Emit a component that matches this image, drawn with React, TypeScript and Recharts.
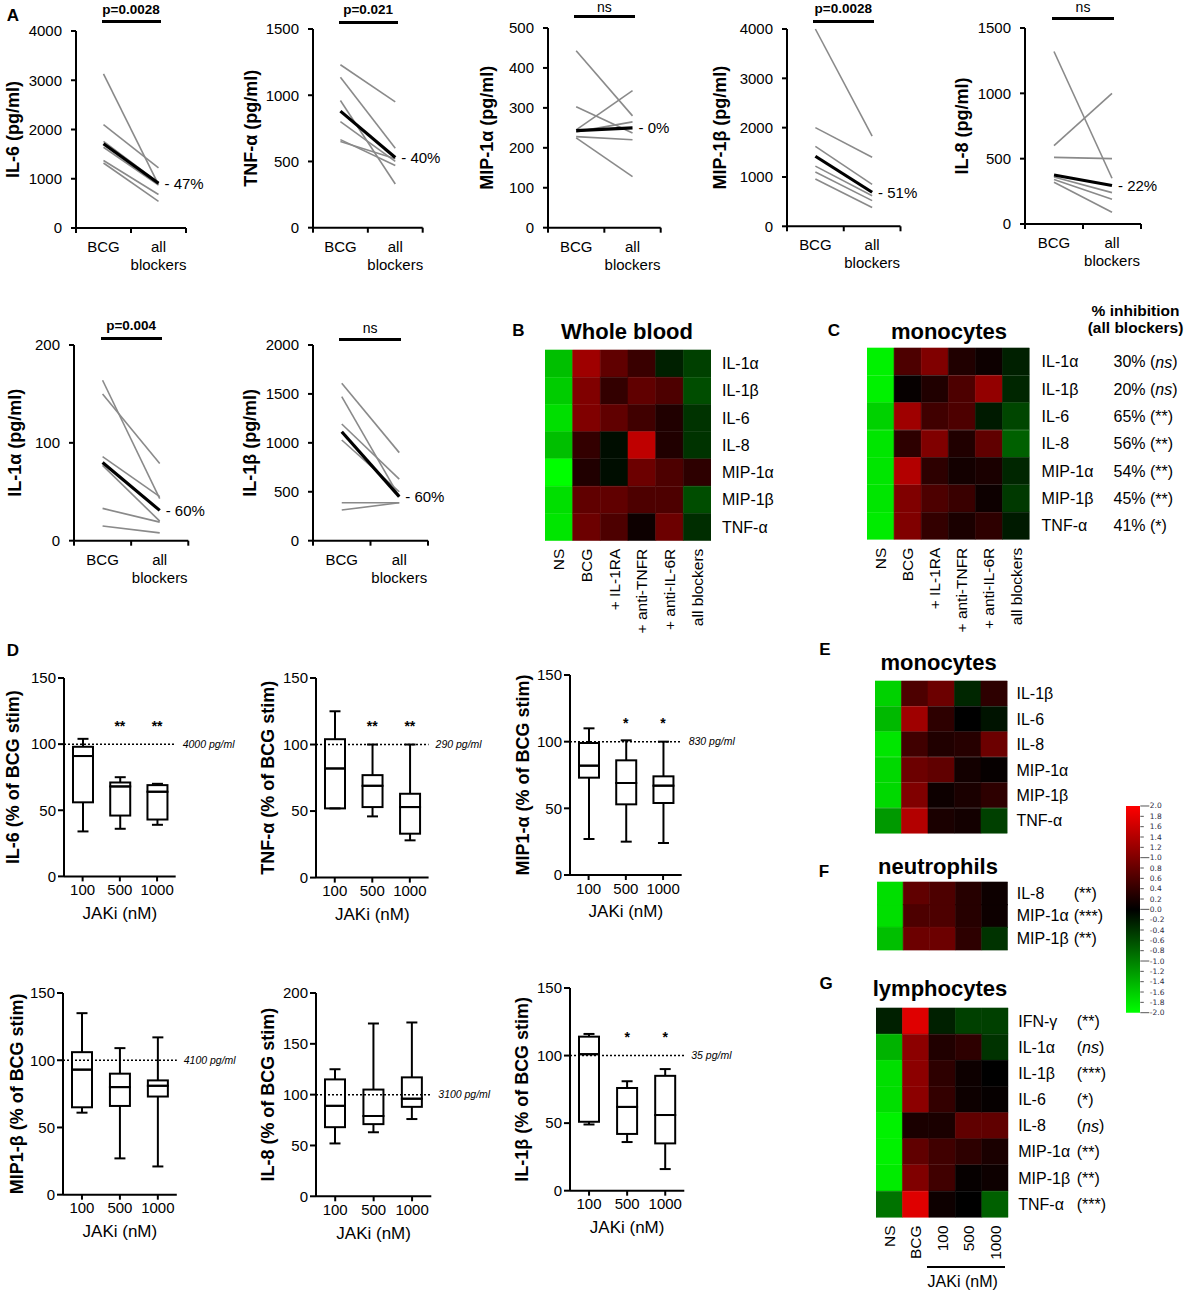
import React from 'react';
import {
  LineChart, Line, XAxis, YAxis, LabelList, BarChart, Bar, Cell,
  ComposedChart, ReferenceLine, Label,
} from 'recharts';

const FONT = '"Liberation Sans", Arial, Helvetica, sans-serif';

// ---------------- Panel A : paired donor values ----------------
const PAIR_CATS = ['BCG', 'all blockers'];

const IL6_BCG = [3130, 2100, 1760, 1640, 1370, 1320];
const IL6_BLK = [880, 1220, 920, 870, 680, 540];
const IL6_MEAN = [1710, 910];
const IL6_TICKS = [0, 1000, 2000, 3000, 4000];

const TNF_BCG = [1230, 1135, 960, 800, 665, 650];
const TNF_BLK = [950, 600, 330, 500, 470, 520];
const TNF_MEAN = [880, 530];
const TNF_TICKS = [0, 500, 1000, 1500];

const MIP1A_BCG = [443, 303, 245, 240, 228, 225];
const MIP1A_BLK = [280, 237, 343, 265, 220, 128];
const MIP1A_MEAN = [243, 250];
const MIP1A_TICKS = [0, 100, 200, 300, 400, 500];

const MIP1B_BCG = [4000, 2000, 1620, 1220, 1100, 960];
const MIP1B_BLK = [1830, 1400, 850, 620, 520, 380];
const MIP1B_MEAN = [1420, 690];
const MIP1B_TICKS = [0, 1000, 2000, 3000, 4000];

const IL8_BCG = [1320, 600, 510, 360, 340, 320];
const IL8_BLK = [350, 1000, 500, 240, 190, 90];
const IL8_MEAN = [375, 295];
const IL8_TICKS = [0, 500, 1000, 1500];

const IL1A_BCG = [164, 150, 86, 77, 33, 15];
const IL1A_BLK = [43, 79, 45, 20, 19, 8];
const IL1A_MEAN = [80, 31];
const IL1A_TICKS = [0, 100, 200];

const IL1B_BCG = [1608, 1472, 1193, 1029, 388, 313];
const IL1B_BLK = [900, 450, 630, 500, 388, 388];
const IL1B_MEAN = [1114, 450];
const IL1B_TICKS = [0, 500, 1000, 1500, 2000];

// ---------------- Panel D : JAK inhibitor box plots ----------------
const JAK_DOSES = ['100', '500', '1000'];
// each dose: [min, q1, median, q3, max]
const BX_IL6 = [[34, 56, 91, 98, 104], [36, 46, 68, 71, 75], [39, 43, 64, 69, 70]];
const BX_TNF = [[52, 52, 82, 104, 125], [46, 53, 69, 77, 100], [28, 33, 53, 63, 100]];
const BX_MIP1A = [[27, 73, 82, 99, 110], [25, 53, 69, 86, 101], [24, 54, 67, 74, 100]];
const BX_MIP1B = [[61, 65, 93, 106, 135], [27, 66, 80, 90, 109], [21, 73, 81, 85, 117]];
const BX_IL8 = [[52, 68, 89, 115, 125], [63, 71, 79, 105, 170], [76, 88, 96, 117, 171]];
const BX_IL1B = [[49, 51, 101, 114, 116], [36, 42, 62, 76, 81], [16, 35, 56, 85, 90]];
const SIG_IL6 = ['', '**', '**'];
const SIG_TNF = ['', '**', '**'];
const SIG_MIP1A = ['', '*', '*'];
const SIG_IL1B = ['', '*', '*'];
const PCT_TICKS = [0, 50, 100, 150];
const PCT_TICKS_200 = [0, 50, 100, 150, 200];

// ---------------- Heatmaps (log-scaled, -2..2) ----------------
const BLOCK_ROWS = ['IL-1α', 'IL-1β', 'IL-6', 'IL-8', 'MIP-1α', 'MIP-1β', 'TNF-α'];
const BLOCK_COLS = ['NS', 'BCG', '+ IL-1RA', '+ anti-TNFR', '+ anti-IL-6R', 'all blockers'];
const WB_VALUES = [
  [-1.5, 1.25, 0.75, 0.45, -0.25, -0.5],
  [-1.6, 1.0, 0.4, 0.75, 0.6, -0.6],
  [-1.75, 1.0, 0.75, 0.5, 0.25, -0.4],
  [-1.5, 0.4, -0.1, 1.5, 0.25, -0.4],
  [-2.0, 0.25, -0.1, 0.85, 0.6, 0.35],
  [-1.75, 0.75, 0.75, 0.6, 0.6, -0.6],
  [-1.8, 0.85, 0.6, 0.1, 0.85, -0.35],
];
const MO_VALUES = [
  [-1.9, 0.6, 1.0, 0.25, 0.1, -0.25],
  [-1.9, 0.05, 0.25, 0.6, 1.15, -0.3],
  [-1.65, 1.25, 0.5, 0.6, -0.2, -0.55],
  [-1.8, 0.35, 1.0, 0.25, 0.75, -0.75],
  [-1.8, 1.4, 0.35, 0.15, 0.2, -0.3],
  [-1.8, 1.0, 0.6, 0.45, 0.1, -0.45],
  [-1.85, 1.0, 0.4, 0.2, 0.35, -0.2],
];
const MO_PCT = ['30%', '20%', '65%', '56%', '54%', '45%', '41%'];
const MO_SIG = ['ns', 'ns', '**', '**', '**', '**', '*'];

const JAK_COLS = ['NS', 'BCG', '100', '500', '1000'];
const E_ROWS = ['IL-1β', 'IL-6', 'IL-8', 'MIP-1α', 'MIP-1β', 'TNF-α'];
const E_VALUES = [
  [-1.65, 0.6, 0.85, -0.3, 0.35],
  [-1.45, 1.25, 0.35, 0.0, -0.15],
  [-1.8, 0.5, 0.25, 0.3, 0.85],
  [-1.7, 0.85, 0.75, 0.15, 0.05],
  [-1.7, 1.0, 0.1, 0.2, 0.35],
  [-1.2, 1.4, 0.2, 0.15, -0.5],
];
const F_ROWS = ['IL-8', 'MIP-1α', 'MIP-1β'];
const F_VALUES = [
  [-1.75, 0.75, 0.6, 0.3, 0.1],
  [-1.75, 0.6, 0.6, 0.3, 0.1],
  [-1.5, 0.85, 0.85, 0.35, -0.4],
];
const F_SIG = ['**', '***', '**'];
const G_ROWS = ['IFN-γ', 'IL-1α', 'IL-1β', 'IL-6', 'IL-8', 'MIP-1α', 'MIP-1β', 'TNF-α'];
const G_VALUES = [
  [-0.25, 1.75, -0.25, -0.5, -0.5],
  [-1.4, 1.1, 0.25, 0.35, -0.4],
  [-1.75, 1.1, 0.35, 0.1, 0.0],
  [-1.75, 1.1, 0.4, 0.1, 0.05],
  [-1.9, 0.2, 0.2, 0.75, 0.75],
  [-1.9, 0.75, 0.5, 0.35, 0.2],
  [-1.85, 1.0, 0.5, 0.05, 0.1],
  [-0.9, 1.75, 0.1, 0.0, -0.75],
];
const G_SIG = ['**', 'ns', '***', '*', 'ns', '**', '**', '***'];
const SCALE_TICKS = [2.0, 1.8, 1.6, 1.4, 1.2, 1.0, 0.8, 0.6, 0.4, 0.2, 0.0, -0.2, -0.4, -0.6, -0.8, -1.0, -1.2, -1.4, -1.6, -1.8, -2.0];

// ---------------- helpers ----------------
function heatColor(v: number) {
  const t = Math.max(-2, Math.min(2, v)) / 2;
  return t >= 0 ? `rgb(${Math.round(255 * t)},0,0)` : `rgb(0,${Math.round(-255 * t)},0)`;
}

function Txt({ x, y, size, bold, italic, anchor = 'middle', children }: any) {
  const tx = anchor === 'middle' ? '-50%' : anchor === 'end' ? '-100%' : '0';
  return (
    <div style={{
      position: 'absolute', left: x, top: y, transform: `translate(${tx}, -50%)`,
      fontSize: size, fontWeight: bold ? 700 : 400, fontStyle: italic ? 'italic' : 'normal',
      whiteSpace: 'nowrap', lineHeight: 1, fontFamily: FONT, color: '#000',
    }}>{children}</div>
  );
}

const AX = { stroke: '#000', strokeWidth: 2 };

// ---------------- Paired line chart (panel A) ----------------
type PairCfg = {
  label: string; bcg: number[]; blk: number[]; mean: number[]; ticks: number[];
  pct: string; sig: string; box: number[]; labelX: number; sigY: number; barY: number;
};

const PAIRS: PairCfg[] = [
  { label: 'IL-6 (pg/ml)', bcg: IL6_BCG, blk: IL6_BLK, mean: IL6_MEAN, ticks: IL6_TICKS, pct: '- 47%', sig: 'p=0.0028', box: [76, 30.7, 186, 227.7], labelX: 13, sigY: 10, barY: 21.7 },
  { label: 'TNF-α (pg/ml)', bcg: TNF_BCG, blk: TNF_BLK, mean: TNF_MEAN, ticks: TNF_TICKS, pct: '- 40%', sig: 'p=0.021', box: [313.3, 29.3, 423, 228], labelX: 251, sigY: 10, barY: 22 },
  { label: 'MIP-1α (pg/ml)', bcg: MIP1A_BCG, blk: MIP1A_BLK, mean: MIP1A_MEAN, ticks: MIP1A_TICKS, pct: '- 0%', sig: 'ns', box: [548, 28, 660.7, 227.7], labelX: 487, sigY: 6.7, barY: 16 },
  { label: 'MIP-1β (pg/ml)', bcg: MIP1B_BCG, blk: MIP1B_BLK, mean: MIP1B_MEAN, ticks: MIP1B_TICKS, pct: '- 51%', sig: 'p=0.0028', box: [786.5, 28.7, 900, 226], labelX: 720, sigY: 9.3, barY: 21 },
  { label: 'IL-8 (pg/ml)', bcg: IL8_BCG, blk: IL8_BLK, mean: IL8_MEAN, ticks: IL8_TICKS, pct: '- 22%', sig: 'ns', box: [1025, 28, 1141, 224], labelX: 962, sigY: 7, barY: 18 },
  { label: 'IL-1α (pg/ml)', bcg: IL1A_BCG, blk: IL1A_BLK, mean: IL1A_MEAN, ticks: IL1A_TICKS, pct: '- 60%', sig: 'p=0.004', box: [74, 345, 188.3, 540.7], labelX: 15, sigY: 326, barY: 338.3 },
  { label: 'IL-1β (pg/ml)', bcg: IL1B_BCG, blk: IL1B_BLK, mean: IL1B_MEAN, ticks: IL1B_TICKS, pct: '- 60%', sig: 'ns', box: [312.7, 345, 427.7, 540.7], labelX: 250, sigY: 328.3, barY: 339.3 },
];

function PairedChart({ cfg }: { cfg: PairCfg }) {
  const [x0, y0, x1, y1] = cfg.box;
  const PL = 80, PR = 60, PT = 14, PB = 50;
  const left = x0 - PL, top = y0 - PT;
  const pw = x1 - x0, ph = y1 - y0;
  const W = pw + PL + PR, H = ph + PT + PB;
  const plotB = PT + ph;
  const max = cfg.ticks[cfg.ticks.length - 1];
  const data = PAIR_CATS.map((cat, i) => {
    const row: any = { x: i + 0.5, cat, mean: cfg.mean[i] };
    cfg.bcg.forEach((v, k) => { row['d' + k] = i === 0 ? v : cfg.blk[k]; });
    return row;
  });
  const xTick = (p: any) => {
    const v = p.payload.value;
    const x = p.x;
    if (v === 0.5 || v === 1.5) {
      const parts = PAIR_CATS[v === 0.5 ? 0 : 1].split(' ');
      return (
        <text x={x} y={plotB + 24} textAnchor="middle" fontSize={15} fontFamily={FONT} fill="#000">
          {parts.map((s, j) => <tspan key={j} x={x} dy={j ? 18 : 0}>{s}</tspan>)}
        </text>
      );
    }
    return <line x1={x} x2={x} y1={plotB} y2={plotB + 5} stroke="#000" strokeWidth={2} />;
  };
  const pctLabel = (p: any) => {
    const isLast = p.index === 1 || (p.index == null && p.x > PL + pw / 2);
    if (!isLast) return null;
    return (
      <text x={p.x + 6} y={p.y} dominantBaseline="central" fontSize={15} fontFamily={FONT} fill="#000">{cfg.pct}</text>
    );
  };
  const lx = cfg.labelX - left, ly = PT + ph / 2;
  const isNs = cfg.sig === 'ns';
  return (
    <>
      <div style={{ position: 'absolute', left, top }}>
        <LineChart width={W} height={H} data={data} margin={{ top: PT, right: PR, bottom: 0, left: 0 }}>
          <XAxis type="number" dataKey="x" domain={[0, 2]} ticks={[0, 0.5, 1, 1.5, 2]} interval={0}
            height={PB} tick={xTick} tickLine={false} axisLine={AX} />
          <YAxis type="number" domain={[0, max]} ticks={cfg.ticks} interval={0} width={PL}
            axisLine={AX} tickLine={AX} tickSize={5} tickMargin={9}
            tick={{ fontSize: 15, fill: '#000', fontFamily: FONT }}>
            <Label content={() => (
              <text transform={`rotate(-90 ${lx} ${ly})`} x={lx} y={ly} textAnchor="middle" dominantBaseline="central"
                fontSize={18} fontWeight="bold" fontFamily={FONT} fill="#000">{cfg.label}</text>
            )} />
          </YAxis>
          {cfg.bcg.map((_, k) => (
            <Line key={k} type="linear" dataKey={'d' + k} stroke="#8a8a8a" strokeWidth={1.6} dot={false}
              activeDot={false} isAnimationActive={false} />
          ))}
          <Line type="linear" dataKey="mean" stroke="#000" strokeWidth={3.2} dot={false} activeDot={false} isAnimationActive={false}>
            <LabelList dataKey="mean" content={pctLabel} />
          </Line>
        </LineChart>
      </div>
      <Txt x={(x0 + x1) / 2} y={cfg.sigY} size={isNs ? 14 : 13.5} bold={!isNs}>{cfg.sig}</Txt>
      <div style={{ position: 'absolute', left: x0 + pw * 0.25 - 2, top: cfg.barY - 1.5, width: pw * 0.5 + 4, height: 3, background: '#000' }} />
    </>
  );
}

// ---------------- Box plot chart (panel D) ----------------
type BoxCfg = { label: string; stats: number[][]; sigs: string[] | null; ticks: number[]; ref: string; box: number[]; labelX: number };

const BOXES: BoxCfg[] = [
  { label: 'IL-6 (% of BCG stim)', stats: BX_IL6, sigs: SIG_IL6, ticks: PCT_TICKS, ref: '4000 pg/ml', box: [64.3, 678.3, 176, 876.7], labelX: 13.4 },
  { label: 'TNF-α (% of BCG stim)', stats: BX_TNF, sigs: SIG_TNF, ticks: PCT_TICKS, ref: '290 pg/ml', box: [316, 677.7, 428.6, 877.3], labelX: 268 },
  { label: 'MIP1-α (% of BCG stim)', stats: BX_MIP1A, sigs: SIG_MIP1A, ticks: PCT_TICKS, ref: '830 pg/ml', box: [570, 675, 681.7, 875], labelX: 523 },
  { label: 'MIP1-β (% of BCG stim)', stats: BX_MIP1B, sigs: null, ticks: PCT_TICKS, ref: '4100 pg/ml', box: [63, 993.3, 176.8, 1195], labelX: 17 },
  { label: 'IL-8 (% of BCG stim)', stats: BX_IL8, sigs: null, ticks: PCT_TICKS_200, ref: '3100 pg/ml', box: [315.7, 992.7, 431, 1196], labelX: 268 },
  { label: 'IL-1β (% of BCG stim)', stats: BX_IL1B, sigs: SIG_IL1B, ticks: PCT_TICKS, ref: '35 pg/ml', box: [570, 988.3, 684.3, 1191], labelX: 521.7 },
];

const STAR_LEVEL = 116;

const boxShape = (p: any) => (
  <rect x={p.x} y={p.y} width={p.width} height={Math.max(0, p.height)} fill="none" stroke="#000" strokeWidth={2} />
);
const lowShape = (p: any) => {
  const cx = p.x + p.width / 2; const yb = p.y + Math.max(0, p.height);
  return (
    <g>
      <line x1={cx} x2={cx} y1={p.y} y2={yb} stroke="#000" strokeWidth={2} />
      <line x1={cx - 5.5} x2={cx + 5.5} y1={yb} y2={yb} stroke="#000" strokeWidth={2} />
    </g>
  );
};
const highShape = (p: any) => {
  const cx = p.x + p.width / 2; const yb = p.y + Math.max(0, p.height);
  return (
    <g>
      <line x1={cx} x2={cx} y1={p.y} y2={yb} stroke="#000" strokeWidth={2} />
      <line x1={cx - 5.5} x2={cx + 5.5} y1={p.y} y2={p.y} stroke="#000" strokeWidth={2} />
    </g>
  );
};
const starLabel = (p: any) => {
  if (!p.value || p.y == null || p.x == null) return null;
  return (
    <text x={p.x} y={p.y} dy={3} textAnchor="middle" dominantBaseline="central" fontSize={14} fontWeight="bold" fontFamily={FONT} fill="#000">{p.value}</text>
  );
};

function BoxChart({ cfg }: { cfg: BoxCfg }) {
  const [x0, y0, x1, y1] = cfg.box;
  const PL = 70, PR = 80, PT = 14, PB = 50;
  const left = x0 - PL, top = y0 - PT;
  const pw = x1 - x0, ph = y1 - y0;
  const W = pw + PL + PR, H = ph + PT + PB;
  const plotB = PT + ph;
  const max = cfg.ticks[cfg.ticks.length - 1];
  const data = JAK_DOSES.map((cat, i) => {
    const [mn, q1, md, q3, mx] = cfg.stats[i];
    const sig = cfg.sigs ? cfg.sigs[i] : '';
    return { cat, base: mn, lw: q1 - mn, b1: md - q1, b2: q3 - md, uw: mx - q3, star: sig ? STAR_LEVEL : null, sig };
  });
  const lx = cfg.labelX - left, ly = PT + ph / 2;
  return (
    <div style={{ position: 'absolute', left, top }}>
      <ComposedChart width={W} height={H} data={data} margin={{ top: PT, right: PR, bottom: 0, left: 0 }}>
        <XAxis dataKey="cat" type="category" height={PB} interval={0} axisLine={AX} tickLine={AX} tickSize={5} tickMargin={3}
          tick={{ fontSize: 15, fill: '#000', fontFamily: FONT }}>
          <Label content={() => (
            <text x={PL + pw / 2} y={plotB + 37} textAnchor="middle" dominantBaseline="central" fontSize={17} fontFamily={FONT} fill="#000">JAKi (nM)</text>
          )} />
        </XAxis>
        <YAxis type="number" domain={[0, max]} ticks={cfg.ticks} interval={0} width={PL} axisLine={AX} tickLine={AX}
          tickSize={6} tickMargin={2} tick={{ fontSize: 15, fill: '#000', fontFamily: FONT }}>
          <Label content={() => (
            <text transform={`rotate(-90 ${lx} ${ly})`} x={lx} y={ly} textAnchor="middle" dominantBaseline="central"
              fontSize={18} fontWeight="bold" fontFamily={FONT} fill="#000">{cfg.label}</text>
          )} />
        </YAxis>
        <ReferenceLine y={100} stroke="#000" strokeWidth={1.5} strokeDasharray="2 2"
          label={{ value: cfg.ref, position: 'right', offset: 7, fontSize: 10.5, fontStyle: 'italic', fill: '#000', fontFamily: FONT }} />
        <Bar dataKey="base" stackId="s" barSize={20} fill="transparent" isAnimationActive={false} />
        <Bar dataKey="lw" stackId="s" barSize={20} shape={lowShape} isAnimationActive={false} />
        <Bar dataKey="b1" stackId="s" barSize={20} shape={boxShape} isAnimationActive={false} />
        <Bar dataKey="b2" stackId="s" barSize={20} shape={boxShape} isAnimationActive={false} />
        <Bar dataKey="uw" stackId="s" barSize={20} shape={highShape} isAnimationActive={false} />
        {cfg.sigs && (
          <Line dataKey="star" stroke="none" dot={false} activeDot={false} isAnimationActive={false}>
            <LabelList dataKey="sig" content={starLabel} />
          </Line>
        )}
      </ComposedChart>
    </div>
  );
}

// ---------------- Heatmap ----------------
type HeatCfg = {
  rows: string[]; cols: string[]; values: number[][]; box: number[]; showCols: boolean; rowGap: number;
  pct?: string[]; pctSig?: string[]; pctDx?: number; sig?: string[]; sigDx?: number;
};

function SigText({ sig }: { sig: string }) {
  return <>(<tspan fontStyle={sig === 'ns' ? 'italic' : 'normal'}>{sig}</tspan>)</>;
}

function Heatmap({ cfg }: { cfg: HeatCfg }) {
  const [x0, y0, x1, y1] = cfg.box;
  const PL = 2, PR = 200, PT = 2, PB = cfg.showCols ? 110 : 2;
  const left = x0 - PL, top = y0 - PT;
  const pw = x1 - x0, ph = y1 - y0;
  const W = pw + PL + PR, H = ph + PT + PB;
  const plotR = PL + pw, plotB = PT + ph;
  const data = cfg.rows.map((name) => {
    const o: any = { name };
    cfg.cols.forEach((_, j) => { o['c' + j] = 1; });
    return o;
  });
  const rowTick = (p: any) => {
    const name = p.payload.value;
    const i = cfg.rows.indexOf(name);
    const xr = plotR + cfg.rowGap;
    return (
      <g>
        <text x={xr} y={p.y} dominantBaseline="central" fontSize={16} fontFamily={FONT} fill="#000">{name}</text>
        {cfg.pct && (
          <text x={xr + (cfg.pctDx || 0)} y={p.y} dominantBaseline="central" fontSize={16} fontFamily={FONT} fill="#000">
            {cfg.pct[i]} <SigText sig={cfg.pctSig![i]} />
          </text>
        )}
        {cfg.sig && (
          <text x={plotR + (cfg.sigDx || 0)} y={p.y} dominantBaseline="central" fontSize={16} fontFamily={FONT} fill="#000">
            <SigText sig={cfg.sig[i]} />
          </text>
        )}
      </g>
    );
  };
  const colTick = (p: any) => {
    const j = Math.floor(p.payload.value);
    const x = p.x, y = plotB + 8;
    return (
      <text transform={`rotate(-90 ${x} ${y})`} x={x} y={y} textAnchor="end" dominantBaseline="central"
        fontSize={15.5} fontFamily={FONT} fill="#000">{cfg.cols[j]}</text>
    );
  };
  return (
    <div style={{ position: 'absolute', left, top }}>
      <BarChart width={W} height={H} data={data} layout="vertical" barCategoryGap={0} barGap={0}
        margin={{ top: PT, right: 0, bottom: cfg.showCols ? 0 : PB, left: PL }}>
        <XAxis type="number" domain={[0, cfg.cols.length]} ticks={cfg.cols.map((_, j) => j + 0.5)} interval={0}
          hide={!cfg.showCols} height={cfg.showCols ? PB : 0} axisLine={false} tickLine={false} tick={colTick} allowDataOverflow />
        <YAxis type="category" dataKey="name" orientation="right" width={PR} axisLine={false} tickLine={false}
          interval={0} tick={rowTick} />
        {cfg.cols.map((_, j) => (
          <Bar key={j} dataKey={'c' + j} stackId="h" isAnimationActive={false}>
            {cfg.rows.map((_, i) => (
              <Cell key={i} fill={heatColor(cfg.values[i][j])} stroke={heatColor(cfg.values[i][j])} strokeWidth={0.6} />
            ))}
          </Bar>
        ))}
      </BarChart>
    </div>
  );
}

const HEATS: HeatCfg[] = [
  { rows: BLOCK_ROWS, cols: BLOCK_COLS, values: WB_VALUES, box: [545, 350, 711, 540.7], showCols: true, rowGap: 11 },
  { rows: BLOCK_ROWS, cols: BLOCK_COLS, values: MO_VALUES, box: [867, 348.3, 1029.6, 540], showCols: true, rowGap: 12, pct: MO_PCT, pctSig: MO_SIG, pctDx: 72 },
  { rows: E_ROWS, cols: JAK_COLS, values: E_VALUES, box: [875, 680.7, 1007.5, 833.3], showCols: false, rowGap: 9 },
  { rows: F_ROWS, cols: JAK_COLS, values: F_VALUES, box: [876.5, 882.3, 1007.3, 950], showCols: false, rowGap: 9, sig: F_SIG, sigDx: 66 },
  { rows: G_ROWS, cols: JAK_COLS, values: G_VALUES, box: [876, 1008.3, 1008.3, 1217.7], showCols: true, rowGap: 10, sig: G_SIG, sigDx: 68.5 },
];

// ---------------- Colour scale ----------------
function ColorScale() {
  const box = [1125.7, 806, 1140, 1012.7];
  const PR = 40, PT = 8, PB = 8;
  const bw = box[2] - box[0];
  const W = bw + PR, H = box[3] - box[1] + PT + PB;
  const tick = (p: any) => {
    const v = p.payload.value;
    const major = Math.abs(v - Math.round(v)) < 1e-6;
    return (
      <g>
        <line x1={bw} x2={bw + (major ? 9 : 3.5)} y1={p.y} y2={p.y} stroke="#555" strokeWidth={1} />
        <text x={bw + 9.5} y={p.y} dominantBaseline="central" fontSize={7.5} fontFamily="'DejaVu Sans', sans-serif" fill="#2a2a40">{v.toFixed(1)}</text>
      </g>
    );
  };
  return (
    <div style={{ position: 'absolute', left: box[0], top: box[1] - PT }}>
      <BarChart width={W} height={H} data={[{ name: 'scale', range: [-2, 2] }]} barCategoryGap={0}
        margin={{ top: PT, bottom: PB, left: 0, right: 0 }}>
        <XAxis dataKey="name" type="category" hide />
        <YAxis type="number" domain={[-2, 2]} ticks={SCALE_TICKS} interval={0} orientation="right" width={PR}
          axisLine={false} tickLine={false} tick={tick} />
        <Bar dataKey="range" fill="url(#hmGrad)" isAnimationActive={false} />
      </BarChart>
    </div>
  );
}

export default function App() {
  return (
    <div style={{ position: 'absolute', left: 0, top: 0, width: 1192, height: 1292, background: '#fff', overflow: 'hidden', fontFamily: FONT }}>
      <svg width={0} height={0} style={{ position: 'absolute' }}>
        <defs>
          <linearGradient id="hmGrad" x1="0" y1="0" x2="0" y2="1">
            <stop offset="0%" stopColor="#ff0000" />
            <stop offset="50%" stopColor="#000000" />
            <stop offset="100%" stopColor="#00ff00" />
          </linearGradient>
        </defs>
      </svg>

      {PAIRS.map((c, i) => <PairedChart key={i} cfg={c} />)}
      {BOXES.map((c, i) => <BoxChart key={i} cfg={c} />)}
      {HEATS.map((c, i) => <Heatmap key={i} cfg={c} />)}
      <ColorScale />

      <Txt x={13} y={15} size={17} bold>A</Txt>
      <Txt x={518.5} y={330} size={17} bold>B</Txt>
      <Txt x={834} y={330} size={17} bold>C</Txt>
      <Txt x={13} y={650} size={17} bold>D</Txt>
      <Txt x={825} y={649} size={17} bold>E</Txt>
      <Txt x={824} y={871} size={17} bold>F</Txt>
      <Txt x={826} y={983} size={17} bold>G</Txt>

      <Txt x={627} y={332} size={22} bold>Whole blood</Txt>
      <Txt x={949} y={332} size={22} bold>monocytes</Txt>
      <Txt x={1135.5} y={310.5} size={15.5} bold>% inhibition</Txt>
      <Txt x={1135.5} y={328.3} size={15.5} bold>(all blockers)</Txt>
      <Txt x={938.6} y={663.3} size={22} bold>monocytes</Txt>
      <Txt x={938} y={867} size={22} bold>neutrophils</Txt>
      <Txt x={940} y={989.3} size={22} bold>lymphocytes</Txt>

      <div style={{ position: 'absolute', left: 926.7, top: 1266.3, width: 78.3, height: 2, background: '#000' }} />
      <Txt x={962.7} y={1281.7} size={16}>JAKi (nM)</Txt>
    </div>
  );
}
